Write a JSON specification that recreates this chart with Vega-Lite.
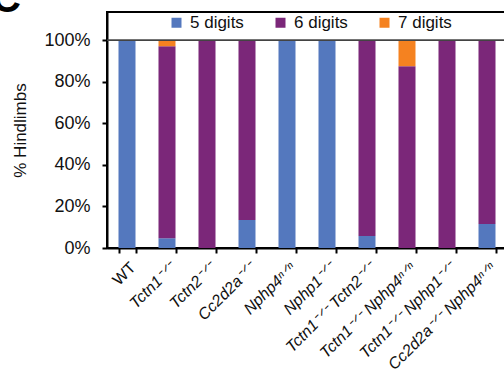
{
  "$schema": "https://vega.github.io/schema/vega-lite/v6.json",
  "width": 400,
  "height": 236,
  "autosize": {"type": "none"},
  "padding": {"left": 107, "top": 12, "right": 0, "bottom": 125},
  "config": {
    "font": "Liberation Sans",
    "view": {"stroke": "#000", "strokeWidth": 2},
    "axis": {"domainColor": "#000", "domainWidth": 2, "tickColor": "#000", "tickWidth": 2, "tickSize": 5, "labelColor": "#111", "grid": false}
  },
  "data": {"values": [
    {"g": "WT", "d": "5 digits", "v": 100, "o": 1},
    {"g": "Tctn1ᐨᐟᐨ", "d": "5 digits", "v": 4.7, "o": 1},
    {"g": "Tctn1ᐨᐟᐨ", "d": "6 digits", "v": 92.5, "o": 2},
    {"g": "Tctn1ᐨᐟᐨ", "d": "7 digits", "v": 2.8, "o": 3},
    {"g": "Tctn2ᐨᐟᐨ", "d": "6 digits", "v": 100, "o": 2},
    {"g": "Cc2d2aᐨᐟᐨ", "d": "5 digits", "v": 13.5, "o": 1},
    {"g": "Cc2d2aᐨᐟᐨ", "d": "6 digits", "v": 86.5, "o": 2},
    {"g": "Nphp4ⁿᐟⁿ", "d": "5 digits", "v": 100, "o": 1},
    {"g": "Nphp1ᐨᐟᐨ", "d": "5 digits", "v": 100, "o": 1},
    {"g": "Tctn1ᐨᐟᐨ Tctn2ᐨᐟᐨ", "d": "5 digits", "v": 5.8, "o": 1},
    {"g": "Tctn1ᐨᐟᐨ Tctn2ᐨᐟᐨ", "d": "6 digits", "v": 94.2, "o": 2},
    {"g": "Tctn1ᐨᐟᐨ Nphp4ⁿᐟⁿ", "d": "6 digits", "v": 87.6, "o": 2},
    {"g": "Tctn1ᐨᐟᐨ Nphp4ⁿᐟⁿ", "d": "7 digits", "v": 12.4, "o": 3},
    {"g": "Tctn1ᐨᐟᐨ Nphp1ᐨᐟᐨ", "d": "6 digits", "v": 100, "o": 2},
    {"g": "Cc2d2aᐨᐟᐨ Nphp4ⁿᐟⁿ", "d": "5 digits", "v": 11.6, "o": 1},
    {"g": "Cc2d2aᐨᐟᐨ Nphp4ⁿᐟⁿ", "d": "6 digits", "v": 88.4, "o": 2}
  ]},
  "layer": [
    {
      "mark": {"type": "bar"},
      "encoding": {
        "x": {"field": "g", "type": "nominal", "sort": null,
          "scale": {"paddingInner": 0.575, "paddingOuter": 0.2875},
          "axis": {"title": null, "labelAngle": -45, "labelFontSize": 16, "labelPadding": 6, "tickBand": "extent",
            "labelFontStyle": {"condition": {"test": "datum.value == 'WT'", "value": "normal"}, "value": "italic"}}},
        "y": {"field": "v", "type": "quantitative", "stack": "zero",
          "scale": {"domain": [0, 113.7], "nice": false, "zero": true},
          "axis": {"values": [0, 20, 40, 60, 80, 100], "labelExpr": "datum.value + '%'", "labelFontSize": 18, "labelPadding": 12,
            "title": "% Hindlimbs", "titleFontSize": 17, "titleFontWeight": "normal", "titleColor": "#111", "titlePadding": 14}},
        "color": {"field": "d", "type": "nominal",
          "scale": {"domain": ["5 digits", "6 digits", "7 digits"], "range": ["#5478BE", "#7B2779", "#F58220"]},
          "legend": {"orient": "none", "legendX": 61, "legendY": 2, "direction": "horizontal", "title": null,
            "symbolType": "square", "symbolSize": 100, "symbolStrokeWidth": 0, "labelFontSize": 17, "labelOffset": 5,
            "columnPadding": 28, "padding": 0, "labelColor": "#111"}},
        "order": {"field": "o", "type": "quantitative"}
      }
    },
    {
      "mark": {"type": "rule", "color": "#444", "strokeWidth": 1},
      "encoding": {"y": {"datum": 100}}
    },
    {
      "data": {"values": [{"panel": "C"}]},
      "mark": {"type": "text", "fontSize": 40, "fontWeight": "bold", "font": "Liberation Sans", "color": "#000", "align": "left", "baseline": "alphabetic", "dx": -135, "dy": 0, "clip": false},
      "encoding": {"text": {"field": "panel"}, "x": {"datum": "WT"}, "y": {"datum": 113.7}}
    }
  ]
}
